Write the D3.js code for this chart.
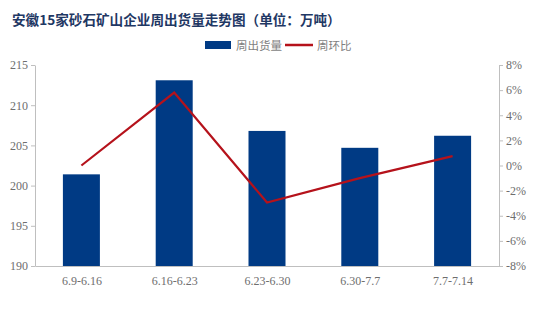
<!DOCTYPE html>
<html><head><meta charset="utf-8">
<script src="https://cdn.jsdelivr.net/npm/d3@7"></script>
<style>body{margin:0;background:#fff}</style>
</head><body>
<svg id="c" width="537" height="329"></svg>
<script>
const categories = ["6.9-6.16","6.16-6.23","6.23-6.30","6.30-7.7","7.7-7.14"];
const volume = [201.4, 213.1, 206.8, 204.7, 206.2];
const wow = [0.0, 5.8, -2.95, -1.0, 0.75];
const leftTicks = [190,195,200,205,210,215];
const rightTicks = [-8,-6,-4,-2,0,2,4,6,8];

const svg = d3.select("#c");
const m = {l:35, r:499, t:65, b:266};
const xc = d3.scalePoint().domain(categories).range([m.l, m.r]).padding(0.5);
const y = d3.scaleLinear().domain([190,215]).range([m.b, m.t]);
const y2 = d3.scaleLinear().domain([-8,8]).range([m.b, m.t]);
const axisCol = "#bfbfbf", txtCol = "#6e6e6e";
const serif = "'Liberation Serif','Times New Roman',serif";

svg.append("text").attr("x",12).attr("y",25)
  .attr("font-family","'Noto Sans CJK SC',sans-serif").attr("font-weight","bold")
  .attr("font-size",13.6).attr("fill","#1f3864")
  .text("安徽15家砂石矿山企业周出货量走势图（单位：万吨）");

// legend
const lg = svg.append("g");
lg.append("rect").attr("x",205).attr("y",41).attr("width",26).attr("height",8).attr("fill","#003a84");
lg.append("text").attr("x",236).attr("y",49.5).attr("font-size",11.5).attr("fill","#7f7f7f")
  .attr("font-family","'Noto Sans CJK SC',sans-serif").text("周出货量");
lg.append("line").attr("x1",285).attr("x2",313).attr("y1",45).attr("y2",45).attr("stroke","#b5121b").attr("stroke-width",2.5);
lg.append("text").attr("x",317).attr("y",49.5).attr("font-size",11.5).attr("fill","#7f7f7f")
  .attr("font-family","'Noto Sans CJK SC',sans-serif").text("周环比");

// bars
svg.append("g").selectAll("rect").data(volume).join("rect")
  .attr("x",(d,i)=>xc(categories[i]) - 18.5).attr("width",37)
  .attr("y",d=>y(d)).attr("height",d=>y(190)-y(d)).attr("fill","#003a84");

// line
svg.append("path").datum(wow)
  .attr("d", d3.line().x((d,i)=>xc(categories[i])).y(d=>y2(d)))
  .attr("fill","none").attr("stroke","#b5121b").attr("stroke-width",2.2);

// axes
function style(g){
  g.selectAll(".domain").attr("stroke",axisCol);
  g.selectAll(".tick line").attr("stroke",axisCol);
  g.selectAll("text").attr("fill",txtCol).attr("font-family",serif).attr("font-size",12);
}
svg.append("g").attr("transform",`translate(${m.l},0)`)
  .call(d3.axisLeft(y).tickValues(leftTicks).tickSize(4).tickSizeOuter(0).tickPadding(3))
  .call(style);
svg.append("g").attr("transform",`translate(${m.r},0)`)
  .call(d3.axisRight(y2).tickValues(rightTicks).tickSize(4).tickSizeOuter(0).tickPadding(3).tickFormat(d=>d+"%"))
  .call(style);
svg.append("g").attr("transform",`translate(0,${m.b})`)
  .call(d3.axisBottom(xc).tickSize(0).tickSizeOuter(0).tickPadding(10))
  .call(style);
</script>
</body></html>
